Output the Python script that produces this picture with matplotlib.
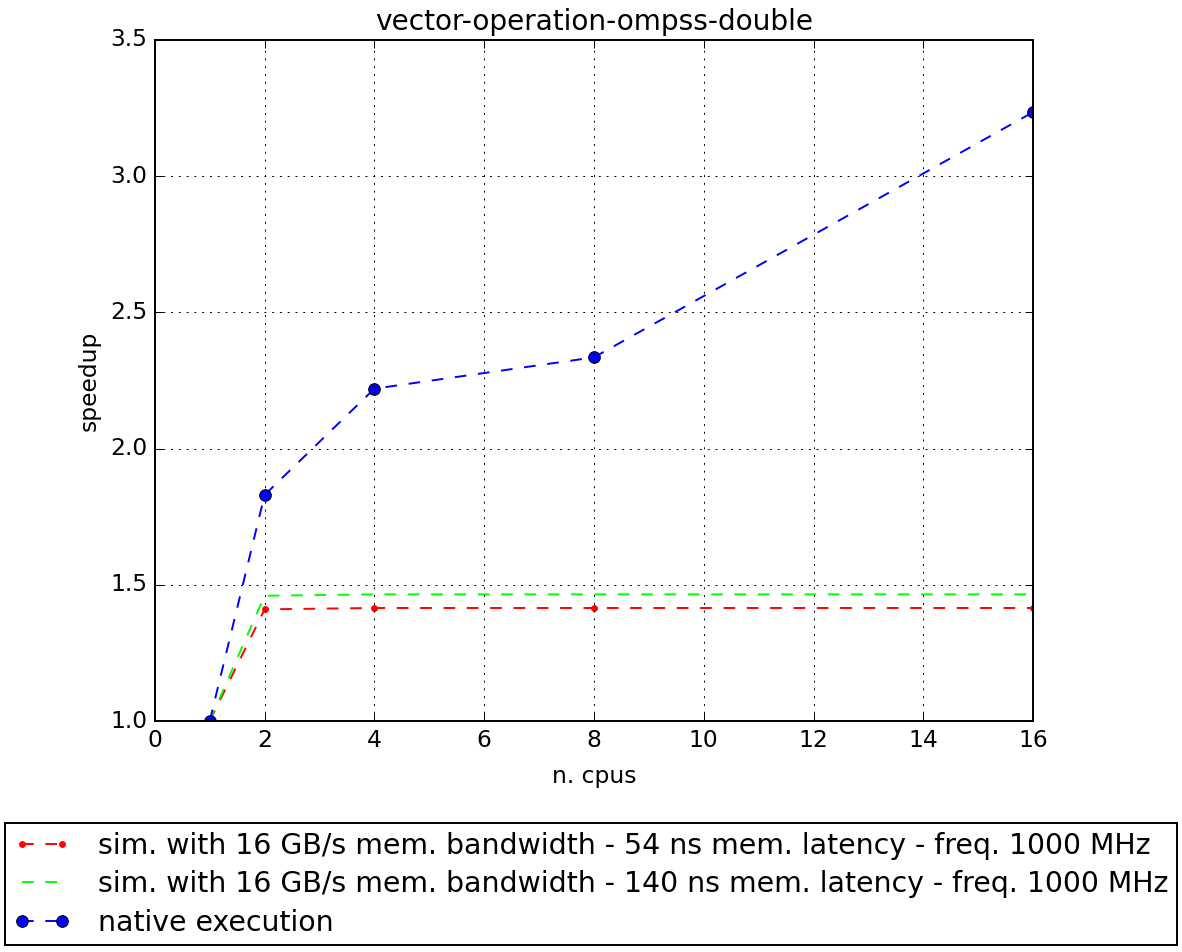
import matplotlib
matplotlib.use("Agg")
import matplotlib.pyplot as plt

cpus = [1, 2, 4, 8, 16]
sim_54ns = [1.0, 1.41, 1.415, 1.415, 1.415]
sim_140ns = [1.0, 1.46, 1.465, 1.465, 1.465]
native = [1.0, 1.83, 2.22, 2.335, 3.235]

labels = [
    "sim. with 16 GB/s mem. bandwidth - 54 ns mem. latency - freq. 1000 MHz",
    "sim. with 16 GB/s mem. bandwidth - 140 ns mem. latency - freq. 1000 MHz",
    "native execution",
]


def main():
    plt.style.use("classic")
    plt.rcParams["figure.facecolor"] = "white"
    plt.rcParams["savefig.facecolor"] = "white"

    # the reference looks rendered at ~140 dpi
    fig = plt.figure(figsize=(1182 / 140, 952 / 140), dpi=140)
    ax = fig.add_axes([0.131, 0.2426, 0.743, 0.7154])

    ax.plot(cpus, sim_54ns, "r.--", label=labels[0])
    ax.plot(cpus, sim_140ns, "--", color="#00ff00", label=labels[1])
    ax.plot(cpus, native, "bo--", label=labels[2])

    ax.set_xlim(0, 16)
    ax.set_ylim(1.0, 3.5)
    ax.set_xticks(range(0, 17, 2))
    ax.set_yticks([1.0, 1.5, 2.0, 2.5, 3.0, 3.5])
    ax.grid(True)
    ax.set_title("vector-operation-ompss-double")
    ax.set_xlabel("n. cpus", labelpad=7)
    ax.set_ylabel("speedup")

    fig.legend(loc="upper left", bbox_to_anchor=(0.004, 0.1355),
               fontsize=14.6, numpoints=2, borderpad=0.3,
               handlelength=2.0, handletextpad=1.0, labelspacing=0.37,
               borderaxespad=0)

    fig.savefig("out.png", dpi=140)


if __name__ == "__main__":
    main()
